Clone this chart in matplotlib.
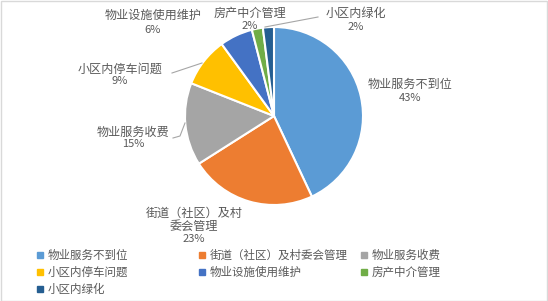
import matplotlib.pyplot as plt
from matplotlib.patches import Rectangle
from matplotlib.lines import Line2D

plt.rcParams['font.family'] = ['Noto Sans CJK SC', 'DejaVu Sans']

categories = ['物业服务不到位', '街道（社区）及村委会管理', '物业服务收费', '小区内停车问题',
              '物业设施使用维护', '房产中介管理', '小区内绿化']
values = [43, 23, 15, 9, 6, 2, 2]
label_texts = ['物业服务不到位', '街道（社区）及村\n委会管理', '物业服务收费', '小区内停车问题',
               '物业设施使用维护', '房产中介管理', '小区内绿化']
colors = ['#5B9BD5', '#ED7D31', '#A5A5A5', '#FFC000', '#4472C4', '#70AD47', '#255E91']

W, H = 548, 301
fig = plt.figure(figsize=(W / 100, H / 100), dpi=100)
txt = '#595959'


def fx(x):
    return x / W


def fy(y):
    return 1 - y / H


# pie centre (274, 116) px, radius 89 px
cx, cy, r = 274, 116, 89
ax = fig.add_axes([fx(cx - r), fy(cy + r), 2 * r / W, 2 * r / H])
ax.pie(values, colors=colors, startangle=90, counterclock=False, radius=1,
       wedgeprops=dict(edgecolor='white', linewidth=1.5))
ax.set_xlim(-1, 1)
ax.set_ylim(-1, 1)
ax.axis('off')

# data labels: (x centre, y of name line(s) centre, y of percent)
label_pos = [(410, 84, 98), (194, 220, 239), (133, 132, 144), (120, 69, 81),
             (153, 15, 30), (250, 13, 26), (356, 13, 27)]
for t, v, (x, y, yp) in zip(label_texts, values, label_pos):
    fig.text(fx(x), fy(y), t, ha='center', va='center', fontsize=8.7,
             color=txt, linespacing=1.05)
    fig.text(fx(x), fy(yp), f'{v}%', ha='center', va='center', fontsize=8, color=txt)

# leader lines
leaders = [
    [(172, 73), (202, 63)],
    [(173, 138), (180, 136), (185, 123)],
    [(265, 27), (318, 17)],
]
for pts in leaders:
    xs = [fx(p[0]) for p in pts]
    ys = [fy(p[1]) for p in pts]
    fig.add_artist(Line2D(xs, ys, color='#A6A6A6', linewidth=0.8))

# legend (drawn manually)
col_x = [37, 199, 361]
row_y = [255, 272, 289]
for i, (c, col) in enumerate(zip(categories, colors)):
    x = col_x[i % 3]
    y = row_y[i // 3]
    fig.add_artist(Rectangle((fx(x), fy(y + 3)), 6 / W, 6 / H, color=col,
                             transform=fig.transFigure))
    fig.text(fx(x + 11), fy(y), c, ha='left', va='center', fontsize=8.3, color=txt)

# chart border
fig.add_artist(Rectangle((0.5 / W, 0.5 / H), 1 - 1.5 / W, 1 - 1.5 / H, fill=False,
                         edgecolor='#D9D9D9', linewidth=1, transform=fig.transFigure))

fig.savefig('out.png', dpi=100)
